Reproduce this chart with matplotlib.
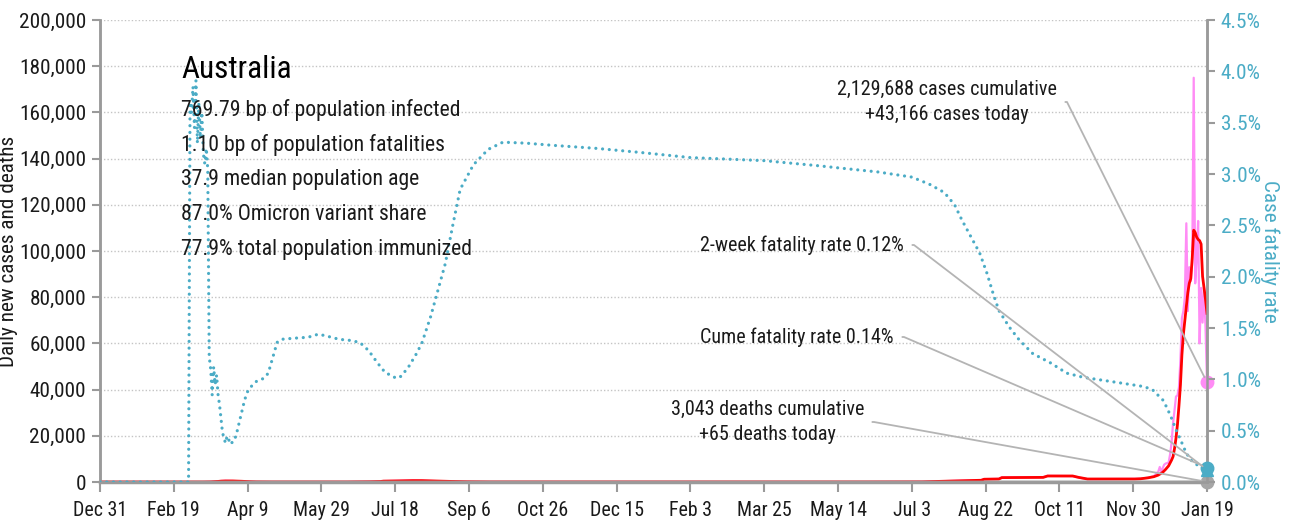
import matplotlib
matplotlib.use("Agg")
import matplotlib.pyplot as plt
from matplotlib import font_manager as fm
import pandas as pd

# ---------------- data ----------------
cfr_dates = ["2019-12-31", "2020-02-29", "2020-03-01", "2020-03-02", "2020-03-03", "2020-03-04",
             "2020-03-05", "2020-03-06", "2020-03-07", "2020-03-08", "2020-03-09", "2020-03-10",
             "2020-03-11", "2020-03-12", "2020-03-13", "2020-03-14", "2020-03-15", "2020-03-16",
             "2020-03-17", "2020-03-18", "2020-03-19", "2020-03-20", "2020-03-21", "2020-03-23",
             "2020-03-25", "2020-03-26", "2020-03-27", "2020-03-28", "2020-03-29", "2020-03-31",
             "2020-04-02", "2020-04-05", "2020-04-07", "2020-04-09", "2020-04-12", "2020-04-15",
             "2020-04-20", "2020-04-23", "2020-04-26", "2020-04-29", "2020-05-02", "2020-05-10",
             "2020-05-20", "2020-05-27", "2020-06-02", "2020-06-10", "2020-06-17", "2020-06-24",
             "2020-06-30", "2020-07-06", "2020-07-11", "2020-07-16", "2020-07-19", "2020-07-22",
             "2020-07-27", "2020-08-01", "2020-08-05", "2020-08-11", "2020-08-16", "2020-08-21",
             "2020-08-26", "2020-08-31", "2020-09-09", "2020-09-19", "2020-09-29", "2020-10-15",
             "2020-11-01", "2020-12-01", "2020-12-31", "2021-02-03", "2021-03-25", "2021-05-01",
             "2021-05-14", "2021-06-10", "2021-07-03", "2021-07-15", "2021-07-25", "2021-08-01",
             "2021-08-06", "2021-08-18", "2021-08-23", "2021-08-27", "2021-08-31", "2021-09-07",
             "2021-09-14", "2021-09-23", "2021-10-05", "2021-10-16", "2021-10-27", "2021-11-19",
             "2021-12-07", "2021-12-13", "2021-12-20", "2021-12-23", "2021-12-26", "2021-12-29",
             "2022-01-02", "2022-01-05", "2022-01-09", "2022-01-14", "2022-01-19"]
cfr_pct = [0.0, 0.0, 3.70, 3.60, 3.85, 3.45,
           3.91, 3.30, 3.70, 3.35, 3.60, 3.20,
           3.10, 3.25, 3.05, 1.22, 1.10, 0.85,
           1.12, 0.95, 1.04, 0.85, 0.75, 0.48,
           0.38, 0.44, 0.40, 0.42, 0.38, 0.40,
           0.50, 0.68, 0.80, 0.88, 0.94, 0.98,
           1.01, 1.06, 1.21, 1.36, 1.39, 1.40,
           1.41, 1.44, 1.42, 1.39, 1.38, 1.36,
           1.28, 1.16, 1.07, 1.03, 1.01, 1.03,
           1.12, 1.24, 1.35, 1.61, 1.87, 2.13,
           2.50, 2.85, 3.09, 3.24, 3.31, 3.30,
           3.28, 3.25, 3.21, 3.16, 3.13, 3.08,
           3.06, 3.02, 2.97, 2.90, 2.82, 2.70,
           2.55, 2.23, 2.03, 1.84, 1.67, 1.51,
           1.38, 1.25, 1.16, 1.06, 1.02, 0.97,
           0.93, 0.90, 0.80, 0.72, 0.62, 0.51,
           0.38, 0.28, 0.20, 0.15, 0.14]

avg_dates = ["2019-12-31", "2020-03-10", "2020-03-15", "2020-03-20", "2020-03-22", "2020-03-25",
             "2020-03-30", "2020-04-05", "2020-04-10", "2020-04-15", "2020-04-25", "2020-06-15",
             "2020-07-01", "2020-07-08", "2020-07-10", "2020-07-20", "2020-07-30", "2020-08-05",
             "2020-08-15", "2020-08-25", "2020-09-05", "2020-09-20", "2021-06-01", "2021-07-10",
             "2021-07-26", "2021-08-01", "2021-08-19", "2021-08-21", "2021-08-31", "2021-09-02",
             "2021-09-30", "2021-10-03", "2021-10-20", "2021-10-24", "2021-10-30", "2021-11-28",
             "2021-12-01", "2021-12-05", "2021-12-10", "2021-12-14", "2021-12-17", "2021-12-20",
             "2021-12-22", "2021-12-24", "2021-12-26", "2021-12-27", "2021-12-28", "2021-12-29",
             "2021-12-30", "2021-12-31", "2022-01-01", "2022-01-02", "2022-01-03", "2022-01-04",
             "2022-01-05", "2022-01-06", "2022-01-07", "2022-01-08", "2022-01-09", "2022-01-10",
             "2022-01-11", "2022-01-12", "2022-01-13", "2022-01-14", "2022-01-15", "2022-01-16",
             "2022-01-17", "2022-01-18", "2022-01-19"]
avg_cases = [0, 0, 50, 250, 380, 450,
             450, 320, 150, 50, 10, 10,
             100, 220, 380, 480, 600, 600,
             420, 250, 100, 20, 10, 50,
             350, 450, 750, 1200, 1300, 1900,
             2000, 2600, 2600, 2000, 1300, 1300,
             1300, 1400, 1800, 2300, 3000, 4200,
             5500, 7000, 9500, 11000, 14500, 19000,
             25000, 33000, 42000, 55000, 64000, 70000,
             76000, 82000, 86000, 88000, 97000, 109000,
             108000, 106000, 105000, 104500, 103000, 89000,
             84000, 79000, 73000]

daily_dates = ["2019-12-31", "2020-03-10", "2020-03-15", "2020-03-20", "2020-03-22", "2020-03-25",
               "2020-03-30", "2020-04-05", "2020-04-10", "2020-04-15", "2020-04-25", "2020-06-15",
               "2020-07-01", "2020-07-08", "2020-07-10", "2020-07-20", "2020-07-30", "2020-08-05",
               "2020-08-15", "2020-08-25", "2020-09-05", "2020-09-20", "2021-06-01", "2021-07-10",
               "2021-07-26", "2021-08-01", "2021-08-19", "2021-08-21", "2021-08-31", "2021-09-02",
               "2021-09-30", "2021-10-03", "2021-10-20", "2021-10-24", "2021-10-30", "2021-11-28",
               "2021-12-01", "2021-12-05", "2021-12-10", "2021-12-14", "2021-12-17", "2021-12-18",
               "2021-12-19", "2021-12-20", "2021-12-21", "2021-12-22", "2021-12-23", "2021-12-24",
               "2021-12-25", "2021-12-26", "2021-12-27", "2021-12-28", "2021-12-29", "2021-12-30",
               "2021-12-31", "2022-01-01", "2022-01-02", "2022-01-03", "2022-01-04", "2022-01-05",
               "2022-01-06", "2022-01-07", "2022-01-08", "2022-01-09", "2022-01-10", "2022-01-11",
               "2022-01-12", "2022-01-13", "2022-01-14", "2022-01-15", "2022-01-16", "2022-01-17",
               "2022-01-18", "2022-01-19"]
daily_cases = [0, 0, 80, 300, 400, 500,
               420, 280, 120, 40, 10, 10,
               120, 250, 400, 500, 650, 550,
               380, 200, 80, 15, 10, 60,
               380, 480, 800, 1250, 1350, 1950,
               2050, 2650, 2550, 1950, 1250, 1350,
               1350, 1450, 1850, 2500, 4500, 6500,
               4500, 6000, 7500, 8000, 8200, 8400,
               12000, 17000, 25500, 31000, 37000, 37500,
               41000, 53000, 71000, 74000, 80000, 112000,
               74000, 93000, 87000, 95000, 175000, 86000,
               97000, 113000, 60000, 84000, 69000, 84000,
               67000, 43166]

death_dates = ["2019-12-31", "2020-08-01", "2020-08-20", "2020-09-30", "2021-09-15", "2021-10-15",
               "2021-12-20", "2022-01-10", "2022-01-19"]
daily_deaths = [0, 15, 20, 2, 12, 15, 3, 50, 65]

cum_cases, today_cases = 2129688, 43166
cum_deaths, today_deaths = 3043, 65
cfr_two_week, cfr_cume = 0.12, 0.14

country = "Australia"
info_lines = ["769.79 bp of population infected",
              "1.10 bp of population fatalities",
              "37.9 median population age",
              "87.0% Omicron variant share",
              "77.9% total population immunized"]

x_start, x_end = "2019-12-31", "2022-01-19"
x_tick_labels = ["Dec 31", "Feb 19", "Apr 9", "May 29", "Jul 18", "Sep 6", "Oct 26", "Dec 15",
                 "Feb 3", "Mar 25", "May 14", "Jul 3", "Aug 22", "Oct 11", "Nov 30", "Jan 19"]
left_ticks = [0, 20000, 40000, 60000, 80000, 100000, 120000, 140000, 160000, 180000, 200000]
right_ticks = [0.0, 0.5, 1.0, 1.5, 2.0, 2.5, 3.0, 3.5, 4.0, 4.5]

# ---------------- style ----------------
avail = set(f.name for f in fm.fontManager.ttflist)
FONT = "DejaVu Sans"
for cand in ["Roboto Condensed", "Archivo Narrow", "Liberation Sans Narrow", "Barlow Semi Condensed",
             "Fira Sans Condensed", "IBM Plex Sans Condensed", "Open Sans Condensed"]:
    if cand in avail:
        FONT = cand
        break
plt.rcParams['font.family'] = [FONT, 'DejaVu Sans']

BLUE = "#4bacc6"
PINK = "#ff8cf5"
RED = "#ff0000"
GRAY = "#a6a6a6"
TXT = "#1a1a1a"
W, H = 1305, 523

fig = plt.figure(figsize=(W / 100, H / 100), dpi=100)
ax = fig.add_axes([100 / W, 1 - 482 / H, (1207 - 100) / W, (482 - 20) / H])
ax2 = ax.twinx()

cfr_x = pd.to_datetime(cfr_dates)
avg_x = pd.to_datetime(avg_dates)
daily_x = pd.to_datetime(daily_dates)
death_x = pd.to_datetime(death_dates)
end = pd.Timestamp(x_end)

ax.plot(daily_x, daily_cases, color=PINK, lw=1.6, zorder=2)
ax.plot(avg_x, avg_cases, color=RED, lw=2.0, zorder=3)
ax.plot(death_x, daily_deaths, color=GRAY, lw=2.0, zorder=4, alpha=0.85)
ax2.plot(cfr_x, cfr_pct, color=BLUE, lw=2.3, ls=(0, (0.01, 2.1)), dash_capstyle='round', zorder=3)

# end markers
ax.plot([end], [today_cases], 'o', color=PINK, ms=9, clip_on=False, zorder=6)
ax.plot([end], [today_deaths], 'o', color=GRAY, ms=9, clip_on=False, zorder=6)
ax2.plot([end], [cfr_two_week], '^', color=BLUE, ms=9, clip_on=False, zorder=6)
ax2.plot([end], [cfr_cume], 'o', color=BLUE, ms=9, clip_on=False, zorder=6)

ax.set_xlim(pd.Timestamp(x_start), end)
ax.set_ylim(0, 200000)
ax2.set_ylim(0, 4.5)

tick_pos = pd.date_range(x_start, x_end, freq="50D")
ax.set_xticks(tick_pos)
ax.set_xticklabels(x_tick_labels, fontsize=14.3, color=TXT)
ax.set_yticks(left_ticks)
ax.set_yticklabels([f"{v:,}" for v in left_ticks], fontsize=15.3, color=TXT)
ax2.set_yticks(right_ticks)
ax2.set_yticklabels([f"{v:.1f}%" for v in right_ticks], fontsize=15.3, color=BLUE)

ax.yaxis.grid(True, color="#c4c4c4", ls=(0, (1, 1.5)), lw=1)
ax.set_axisbelow(True)
for a in (ax, ax2):
    a.spines['top'].set_visible(False)
    for s in ('left', 'right', 'bottom'):
        a.spines[s].set_color("#9a9a9a")
        a.spines[s].set_linewidth(1.8)
ax.spines['bottom'].set_linewidth(2.5)
ax.tick_params(axis='x', length=7, width=1.5, color="#9a9a9a", pad=7)
ax.tick_params(axis='y', length=6, width=1.5, color="#9a9a9a", pad=4)
ax2.tick_params(axis='y', length=6, width=1.5, color="#9a9a9a", pad=4)

ax.set_ylabel("Daily new cases and deaths", fontsize=15.3, color=TXT)
ax2.set_ylabel("Case fatality rate", fontsize=15.3, color=BLUE, rotation=270)
ax.yaxis.set_label_coords(-82 / 1107, 0.5)
ax2.yaxis.set_label_coords(1 + 73 / 1107, 0.5)

# info block
fig.text(181 / W, 1 - 70 / H, country, fontsize=22.5, color="black", va='center', ha='left')
for i, line in enumerate(info_lines):
    fig.text(181 / W, 1 - (110 + 35 * i) / H, line, fontsize=15.7, color=TXT, va='center', ha='left')

# annotations
def note(text, txy, target_ax, target):
    target_ax.annotate(text, xy=target, xycoords='data',
                       xytext=(txy[0], H - txy[1]), textcoords='figure pixels',
                       ha='right', va='center', fontsize=14.5, color=TXT, multialignment='center',
                       linespacing=1.45,
                       arrowprops=dict(arrowstyle='-', color="#b4b4b4", lw=1.3, shrinkA=4, shrinkB=4,
                                       relpos=(1, 0.5),
                                       connectionstyle="arc,angleA=0,angleB=0,armA=10,armB=0,rad=0"),
                       zorder=7, annotation_clip=False)

note(f"{cum_cases:,} cases cumulative\n+{today_cases:,} cases today", (1057, 102), ax, (end, today_cases))
note(f"2-week fatality rate {cfr_two_week:.2f}%", (904, 245), ax2, (end, cfr_two_week))
note(f"Cume fatality rate {cfr_cume:.2f}%", (894, 337), ax2, (end, cfr_cume))
note(f"{cum_deaths:,} deaths cumulative\n+{today_deaths} deaths today", (864, 422), ax, (end, today_deaths))

fig.savefig("out.png", dpi=100)
